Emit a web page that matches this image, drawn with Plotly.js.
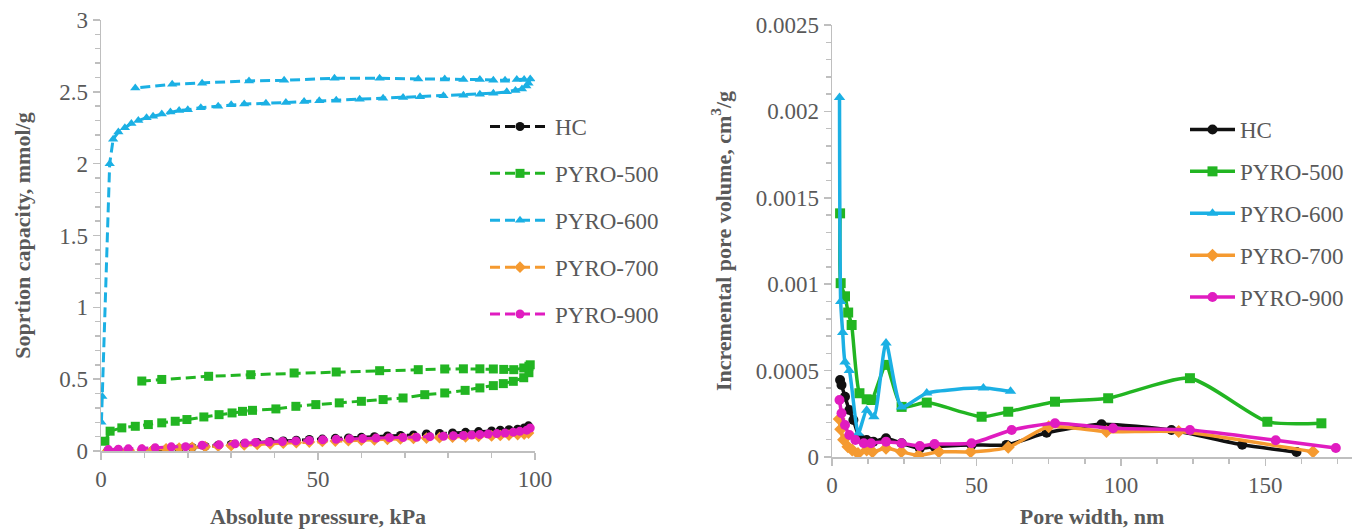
<!DOCTYPE html>
<html>
<head>
<meta charset="utf-8">
<script src="https://cdn.plot.ly/plotly-3.0.1.min.js"></script>
<style>html,body{margin:0;padding:0;background:#fff;}#chart{width:1352px;height:529px;}</style>
</head>
<body>
<div id="chart"></div>
<script>
// ---------- Left chart: sorption isotherms (kPa vs mmol/g) ----------
const seriesNames = ["HC", "PYRO-500", "PYRO-600", "PYRO-700", "PYRO-900"];
const seriesColors = ["#111111", "#22b522", "#1bb0e4", "#f59a30", "#e01cc0"];
const seriesSymbols = ["circle", "square", "triangle-up", "diamond", "circle"];

const isoHC_x = [1.5, 4, 6.5, 9.5, 12, 15, 18, 21, 24, 27, 30, 33, 36, 39, 42, 45, 48, 51, 54, 57, 60, 63, 66, 69, 72, 75, 78, 81, 84, 87, 90, 92, 94, 96, 97.5, 98.5];
const isoHC_y = [0.0, 0.005, 0.0, -0.004, 0.005, 0.01, 0.018, 0.025, 0.032, 0.04, 0.045, 0.05, 0.06, 0.066, 0.07, 0.075, 0.08, 0.083, 0.088, 0.091, 0.095, 0.1, 0.105, 0.108, 0.112, 0.118, 0.122, 0.126, 0.13, 0.135, 0.14, 0.145, 0.148, 0.152, 0.16, 0.175];

const iso500_x = [0.9, 2.1, 4.8, 7.9, 10.9, 14.0, 17.1, 19.8, 23.7, 27.2, 30.2, 32.6, 34.9, 40.3, 44.9, 49.5, 54.9, 60, 65, 69.6, 74.6, 79.2, 83.9, 87.3, 90.4, 92.7, 95, 97.4, 98.6, 98.9, 98.6, 97.4, 95.1, 92.8, 90.4, 87.3, 83.5, 79.2, 73.1, 64.2, 54.2, 44.5, 34.5, 24.8, 14.0, 9.4];
const iso500_y = [0.068, 0.138, 0.161, 0.172, 0.184, 0.196, 0.207, 0.219, 0.237, 0.253, 0.265, 0.276, 0.283, 0.293, 0.311, 0.323, 0.335, 0.346, 0.358, 0.369, 0.392, 0.404, 0.422, 0.439, 0.455, 0.469, 0.485, 0.51, 0.545, 0.6, 0.59, 0.578, 0.566, 0.568, 0.571, 0.572, 0.572, 0.571, 0.566, 0.559, 0.55, 0.543, 0.531, 0.52, 0.498, 0.487];

const iso600_x = [0.1, 0.3, 2.0, 2.8, 4, 5.5, 7, 8.6, 10.5, 12, 14, 16, 18, 20, 23, 27, 30, 33, 38, 42.6, 46.8, 50.3, 54.2, 59.6, 65, 69.6, 73.5, 78.9, 83.5, 87.3, 90.4, 93.5, 95.5, 97, 98, 98.5, 98.9, 97.5, 95.8, 93.1, 90.4, 87.3, 83.5, 79.2, 73.1, 64.2, 53.8, 42.2, 34.1, 23.3, 16.4, 7.9];
const iso600_y = [0.2, 0.38, 2.0, 2.17, 2.22, 2.25, 2.28, 2.3, 2.32, 2.33, 2.345, 2.36, 2.37, 2.375, 2.39, 2.4, 2.41, 2.415, 2.42, 2.426, 2.433, 2.438, 2.442, 2.449, 2.456, 2.461, 2.465, 2.472, 2.477, 2.484, 2.49, 2.5, 2.51, 2.52, 2.54, 2.56, 2.59, 2.586, 2.586, 2.58, 2.58, 2.585, 2.586, 2.59, 2.59, 2.595, 2.595, 2.58, 2.576, 2.56, 2.553, 2.526];

const iso700_x = [1.5, 4, 6.5, 9.5, 12, 15, 18, 21, 24, 27, 30, 33, 36, 39, 42, 45, 48, 51, 54, 57, 60, 63, 66, 69, 72, 75, 78, 81, 84, 87, 90, 92, 94, 96, 97.5, 98.5];
const iso700_y = [0.0, 0.002, 0.005, 0.008, 0.01, 0.015, 0.02, 0.025, 0.03, 0.034, 0.038, 0.042, 0.046, 0.05, 0.054, 0.058, 0.062, 0.066, 0.069, 0.072, 0.075, 0.078, 0.081, 0.084, 0.087, 0.09, 0.093, 0.096, 0.099, 0.102, 0.105, 0.108, 0.111, 0.114, 0.118, 0.125];

const iso900_x = [1.7, 4, 6.3, 9.4, 12.5, 16.2, 19.5, 23.3, 27.2, 30.9, 33.2, 35.6, 38.7, 41.8, 44.9, 48, 51.1, 54.2, 57.3, 60.3, 63.4, 66.5, 69.6, 72.7, 75.8, 78.9, 81.2, 83.5, 85.4, 87.3, 89.2, 91.2, 93.1, 95, 96.5, 98.1, 98.9];
const iso900_y = [0.01, 0.012, 0.015, 0.015, 0.022, 0.029, 0.03, 0.04, 0.043, 0.05, 0.055, 0.06, 0.063, 0.066, 0.07, 0.073, 0.078, 0.082, 0.085, 0.087, 0.09, 0.092, 0.094, 0.096, 0.1, 0.103, 0.106, 0.108, 0.111, 0.115, 0.118, 0.121, 0.125, 0.131, 0.137, 0.145, 0.16];

// ---------- Right chart: pore size distribution (nm vs cm3/g) ----------
const psdHC_x = [2.8, 3.3, 4.5, 6, 7.4, 9.7, 12, 14.3, 18.7, 24.1, 30.4, 35.5, 48.3, 60.4, 74.3, 93.3, 117.5, 142, 160.8];
const psdHC_y = [0.000446, 0.000417, 0.000349, 0.000272, 0.000214, 0.000108, 0.0000985, 0.0000888, 0.000108, 0.0000793, 0.00005, 0.00006, 0.00007, 0.00007, 0.00014, 0.00019, 0.000156, 0.000071, 0.000029];

const psd500_x = [2.8, 3.0, 4.5, 5.6, 6.8, 9.5, 12, 13.7, 18.7, 24.1, 32.8, 51.8, 61, 77.2, 95.6, 123.9, 150.7, 169.4];
const psd500_y = [0.00141, 0.001006, 0.00093, 0.000836, 0.000764, 0.000369, 0.000334, 0.00033, 0.000533, 0.00029, 0.000315, 0.000233, 0.000262, 0.00032, 0.00034, 0.000456, 0.000204, 0.000195];

const psd600_x = [2.6, 3.0, 3.7, 4.5, 6.0, 9.1, 12, 14.5, 18.7, 24.1, 32.8, 52.4, 61.8];
const psd600_y = [0.00208, 0.0009, 0.00072, 0.00055, 0.0005, 0.000137, 0.00027, 0.000233, 0.00066, 0.00029, 0.00037, 0.0004, 0.00038];

const psd700_x = [2.5, 3.0, 4, 5.5, 7, 9, 12, 14, 18.7, 24, 30, 37, 48, 61, 75, 95, 120, 166.5];
const psd700_y = [0.00022, 0.00016, 0.0001, 0.00006, 0.00004, 0.00002, 0.00004, 0.00003, 0.00005, 0.00003, 0.00001, 0.00003, 0.00003, 0.000056, 0.000175, 0.000147, 0.000147, 0.00003];

const psd900_x = [2.6, 3.3, 4.5, 6, 8.1, 11, 13.5, 18.7, 24.1, 30.4, 35.5, 48.3, 62.2, 77.2, 97.3, 123.9, 153.6, 174.4];
const psd900_y = [0.00033, 0.000253, 0.000185, 0.000127, 0.0000985, 0.00008, 0.00008, 0.0000888, 0.0000793, 0.0000637, 0.000075, 0.0000793, 0.000156, 0.000195, 0.000166, 0.000156, 0.0000967, 0.000052];

// ---------- Axis texts ----------
const leftXTitle = "Absolute pressure, kPa";
const leftYTitle = "Soprtion capacity, mmol/g";
const rightXTitle = "Pore width, nm";
const rightYTitle = "Incremental pore volume, cm<sup>3</sup>/g";

const isoX = [isoHC_x, iso500_x, iso600_x, iso700_x, iso900_x];
const isoY = [isoHC_y, iso500_y, iso600_y, iso700_y, iso900_y];
const psdX = [psdHC_x, psd500_x, psd600_x, psd700_x, psd900_x];
const psdY = [psdHC_y, psd500_y, psd600_y, psd700_y, psd900_y];

const serif = "Liberation Serif";
const gray = "#595959";
const axisCol = "#bfbfbf";

const traces = [];
seriesNames.forEach((n, i) => {
  traces.push({
    type: "scatter", mode: "lines+markers", name: n,
    x: isoX[i], y: isoY[i], xaxis: "x", yaxis: "y",
    legend: "legend", legendgroup: "L" + i,
    line: {color: seriesColors[i], width: 3, dash: "10px,5px"},
    marker: {color: seriesColors[i], symbol: seriesSymbols[i], size: 9}
  });
});
seriesNames.forEach((n, i) => {
  traces.push({
    type: "scatter", mode: "lines+markers", name: n,
    x: psdX[i], y: psdY[i], xaxis: "x2", yaxis: "y2",
    legend: "legend2", legendgroup: "R" + i,
    line: {color: seriesColors[i], width: 3.5, shape: "spline", smoothing: 0.6},
    marker: {color: seriesColors[i], symbol: seriesSymbols[i], size: 10}
  });
});

const tickFont = {family: serif, size: 23, color: gray};
const titleFont = {family: serif, size: 22, color: gray, weight: "bold"};

function axis(extra) {
  return Object.assign({
    showgrid: false, zeroline: false, showline: true, linecolor: axisCol, linewidth: 1.5,
    ticks: "outside", ticklen: 7, tickcolor: axisCol, tickwidth: 1.5,
    tickfont: tickFont, fixedrange: true
  }, extra);
}

const layout = {
  width: 1352, height: 529,
  margin: {l: 0, r: 0, t: 0, b: 0},
  paper_bgcolor: "#ffffff", plot_bgcolor: "#ffffff",
  showlegend: true,
  xaxis: axis({domain: [101/1352, 535/1352], range: [0, 100], dtick: 50, anchor: "y",
    minor: {dtick: 10, ticks: "outside", ticklen: 5, tickcolor: axisCol},
    title: {text: leftXTitle, font: titleFont, standoff: 18}}),
  yaxis: axis({domain: [(529-451)/529, (529-20)/529], range: [0, 3], dtick: 0.5, anchor: "x",
    minor: {dtick: 0.1, ticks: "outside", ticklen: 5, tickcolor: axisCol},
    title: {text: leftYTitle, font: titleFont, standoff: 22}}),
  xaxis2: axis({domain: [832/1352, 1], range: [0, 180], dtick: 50, anchor: "y2",
    minor: {dtick: 12.5, ticks: "outside", ticklen: 5, tickcolor: axisCol},
    title: {text: rightXTitle, font: titleFont, standoff: 14}}),
  yaxis2: axis({domain: [(529-457)/529, (529-25)/529], range: [0, 0.0025], dtick: 0.0005, anchor: "x2",
    tickformat: "~g", exponentformat: "none",
    minor: {dtick: 0.0001, ticks: "outside", ticklen: 5, tickcolor: axisCol},
    title: {text: rightYTitle, font: titleFont, standoff: 18}}),
  legend: {x: 485/1352, y: 1 - 105/529, xanchor: "left", yanchor: "top",
    bgcolor: "rgba(0,0,0,0)", font: {family: serif, size: 23, color: gray},
    itemwidth: 60, tracegroupgap: 14, traceorder: "grouped"},
  legend2: {x: 1185/1352, y: 1 - 108/529, xanchor: "left", yanchor: "top",
    bgcolor: "rgba(0,0,0,0)", font: {family: serif, size: 23, color: gray},
    itemwidth: 45, tracegroupgap: 9, traceorder: "grouped"}
};

Plotly.newPlot("chart", traces, layout, {displayModeBar: false, staticPlot: true});
</script>
</body>
</html>
